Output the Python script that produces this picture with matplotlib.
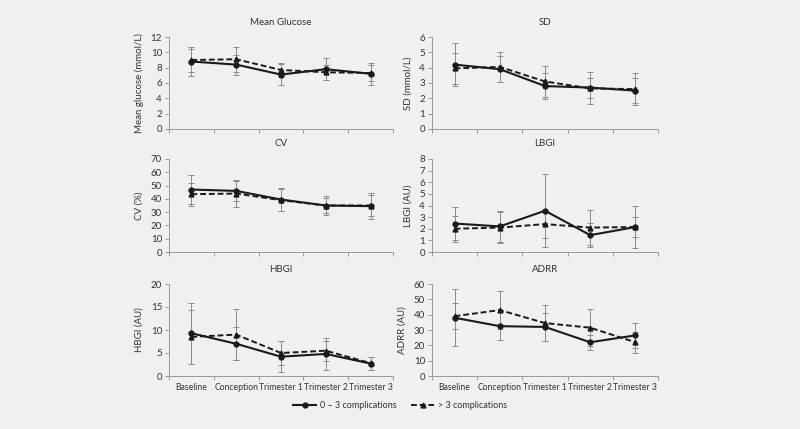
import matplotlib
matplotlib.use("Agg")
import matplotlib.pyplot as plt
import numpy as np
from matplotlib.lines import Line2D

plt.rcParams['font.family'] = ['Lato', 'DejaVu Sans']

categories = ["Baseline", "Conception", "Trimester 1", "Trimester 2", "Trimester 3"]

titles = ["Mean Glucose", "SD", "CV", "LBGI", "HBGI", "ADRR"]
ylabels = ["Mean glucose (mmol/L)", "SD (mmol/L)", "CV (%)", "LBGI (AU)", "HBGI (AU)", "ADRR (AU)"]
ymax = [12, 6, 70, 8, 20, 60]
ystep = [2, 1, 10, 1, 5, 10]

# 0-3 complications (solid) means and SD
glu_low = [8.8, 8.4, 7.1, 7.8, 7.2]
glu_low_err = [1.9, 1.3, 1.4, 1.4, 1.4]
glu_high = [9.0, 9.1, 7.7, 7.4, 7.3]
glu_high_err = [1.5, 1.6, 0.9, 1.0, 1.1]

sd_low = [4.2, 3.9, 2.8, 2.7, 2.5]
sd_low_err = [1.4, 0.85, 0.85, 1.05, 0.8]
sd_high = [3.95, 4.05, 3.1, 2.65, 2.6]
sd_high_err = [1.0, 1.0, 1.0, 0.65, 1.05]

cv_low = [47, 46, 39.5, 35, 34.5]
cv_low_err = [11, 7.5, 8.5, 7.5, 10]
cv_high = [43.5, 44, 39, 35, 35]
cv_high_err = [8.5, 10, 8.5, 6, 8]

lbgi_low = [2.45, 2.2, 3.55, 1.45, 2.15]
lbgi_low_err = [1.45, 1.35, 3.15, 1.05, 1.8]
lbgi_high = [2.0, 2.1, 2.4, 2.1, 2.15]
lbgi_high_err = [1.1, 1.35, 1.2, 1.5, 0.9]

hbgi_low = [9.3, 7.0, 4.2, 4.8, 2.7]
hbgi_low_err = [6.6, 3.6, 3.4, 3.5, 1.5]
hbgi_high = [8.5, 9.0, 5.0, 5.5, 2.8]
hbgi_high_err = [5.8, 5.5, 2.7, 2.2, 1.4]

adrr_low = [38, 32.5, 32, 22, 26.5]
adrr_low_err = [18.5, 9, 9, 5, 8]
adrr_high = [39, 43, 34.5, 31.5, 22]
adrr_high_err = [8.5, 12.5, 11.5, 12, 7]

low_series = [(glu_low, glu_low_err), (sd_low, sd_low_err), (cv_low, cv_low_err),
              (lbgi_low, lbgi_low_err), (hbgi_low, hbgi_low_err), (adrr_low, adrr_low_err)]
high_series = [(glu_high, glu_high_err), (sd_high, sd_high_err), (cv_high, cv_high_err),
               (lbgi_high, lbgi_high_err), (hbgi_high, hbgi_high_err), (adrr_high, adrr_high_err)]

W, H = 800, 429
bg = "#f0f0f0"
fig = plt.figure(figsize=(W / 100, H / 100), dpi=100, facecolor=bg)

cols = [(169, 393), (432, 658)]
rows = [(37, 129), (159, 252), (284, 376)]
text_col = "#333333"
spine_col = "#999999"
err_col = "#8a8a8a"

x = np.arange(len(categories)) + 0.5

for i in range(6):
    r, c = divmod(i, 2)
    x0, x1 = cols[c]
    t, b = rows[r]
    ax = fig.add_axes([x0 / W, (H - b) / H, (x1 - x0) / W, (b - t) / H])
    ax.set_facecolor(bg)
    lo, lo_e = low_series[i]
    hi, hi_e = high_series[i]
    ax.errorbar(x, hi, yerr=hi_e, fmt="none", ecolor=err_col, elinewidth=0.7, capsize=2, capthick=0.7, zorder=1)
    ax.errorbar(x, lo, yerr=lo_e, fmt="none", ecolor=err_col, elinewidth=0.7, capsize=2, capthick=0.7, zorder=1)
    ax.plot(x, hi, color="#1a1a1a", linestyle=(0, (3, 1.5)), linewidth=1.4, marker="^", markersize=3.5, zorder=3)
    ax.plot(x, lo, color="#1a1a1a", linestyle="-", linewidth=1.5, marker="o", markersize=3.5, zorder=3)
    ax.set_xlim(0, len(categories))
    ax.set_ylim(0, ymax[i])
    ax.set_yticks(np.arange(0, ymax[i] + 0.001, ystep[i]))
    ax.set_xticks(np.arange(0, len(categories) + 1))
    ax.set_xticklabels([])
    ax.set_xticks(x, minor=True)
    if r == 2:
        ax.set_xticklabels(categories, minor=True, fontsize=6.2)
    ax.tick_params(axis="x", which="minor", length=0, colors=text_col, pad=5)
    ax.tick_params(axis="x", which="major", length=3, color=spine_col, width=0.7)
    ax.tick_params(axis="y", length=3, color=spine_col, width=0.7, labelsize=7, labelcolor=text_col, pad=2)
    for s in ["top", "right"]:
        ax.spines[s].set_visible(False)
    for s in ["left", "bottom"]:
        ax.spines[s].set_color(spine_col)
        ax.spines[s].set_linewidth(0.7)
    ax.set_ylabel(ylabels[i], fontsize=7, color=text_col, labelpad=5)
    ax.set_title(titles[i], fontsize=7, color=text_col, pad=9)

handles = [
    Line2D([], [], color="#1a1a1a", linestyle="-", linewidth=1.5, marker="o", markersize=3.5),
    Line2D([], [], color="#1a1a1a", linestyle=(0, (3, 1.5)), linewidth=1.4, marker="^", markersize=3.5),
]
fig.legend(handles, ["0 – 3 complications", "> 3 complications"], loc="center",
           bbox_to_anchor=(0.5, 1 - 406 / H), ncol=2, frameon=False, fontsize=6.5,
           handlelength=2.6, handletextpad=0.4, columnspacing=1.6, labelcolor=text_col)

fig.savefig("out.png", dpi=100, facecolor=bg)
